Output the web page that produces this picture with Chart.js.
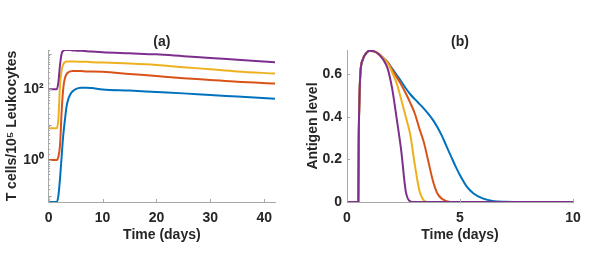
<!DOCTYPE html>
<html>
<head>
<meta charset="utf-8">
<script src="https://cdn.jsdelivr.net/npm/chart.js@4.4.0/dist/chart.umd.min.js"></script>
<style>
  body { margin: 0; background: #fff; }
  .panel { position: absolute; top: 0; }
</style>
</head>
<body>
<div class="panel" style="left:0"><canvas id="chartA" width="300" height="264"></canvas></div>
<div class="panel" style="left:300px"><canvas id="chartB" width="298" height="264"></canvas></div>
<script>
// (a) T cells per 10^5 leukocytes
const timeA = [0, 1.5, 1.8, 2.1, 2.4, 2.7, 3, 3.3, 3.6, 4, 4.5, 5, 5.5, 6, 7, 8, 10, 15, 20, 25, 30, 35, 42];
const tcellBlue   = [0.066, 0.066, 0.1, 0.302, 1.26, 5.01, 13.2, 31.6, 50.1, 70.8, 89.1, 100, 107, 110, 110, 107, 98, 91, 83, 76, 68, 62, 54];
const tcellOrange = [1, 1, 1.26, 2.63, 22.9, 105, 200, 263, 295, 316, 324, 324, 324, 324, 316, 316, 309, 269, 234, 204, 182, 162, 145];
const tcellYellow = [7.9, 7.9, 14.8, 129, 339, 501, 575, 603, 603, 603, 603, 603, 589, 589, 589, 575, 562, 525, 479, 417, 363, 316, 275];
const tcellPurple = [100, 100, 158, 479, 1000, 1202, 1259, 1259, 1259, 1259, 1230, 1230, 1202, 1202, 1175, 1148, 1096, 1023, 955, 851, 759, 676, 575];
const xTicksA = [0, 10, 20, 30, 40];

// (b) antigen level
const timeB = [0, 0.5, 0.52, 0.56, 0.6, 0.7, 0.85, 1.0, 1.2, 1.4, 1.6, 1.8, 2.0, 2.2, 2.4, 2.6, 2.8, 3.0, 3.2, 3.4, 3.6, 3.8, 4.0, 4.2, 4.4, 4.6, 4.8, 5.0, 5.3, 5.6, 6.0, 6.5, 7.0, 8.0, 10.0];
const agBlue   = [0, 0, 0.3, 0.52, 0.615, 0.668, 0.698, 0.709, 0.706, 0.695, 0.675, 0.655, 0.625, 0.595, 0.565, 0.533, 0.505, 0.482, 0.46, 0.438, 0.413, 0.385, 0.35, 0.31, 0.262, 0.215, 0.168, 0.125, 0.072, 0.04, 0.017, 0.004, 0.001, 0, 0];
const agOrange = [0, 0, 0.3, 0.52, 0.615, 0.668, 0.698, 0.709, 0.706, 0.695, 0.675, 0.655, 0.62, 0.585, 0.55, 0.51, 0.465, 0.415, 0.345, 0.28, 0.19, 0.1, 0.04, 0.015, 0.004, 0, 0, 0, 0, 0, 0, 0, 0, 0, 0];
const agYellow = [0, 0, 0.3, 0.52, 0.615, 0.668, 0.698, 0.709, 0.706, 0.695, 0.675, 0.65, 0.607, 0.556, 0.48, 0.4, 0.315, 0.175, 0.055, 0.008, 0, 0, 0, 0, 0, 0, 0, 0, 0, 0, 0, 0, 0, 0, 0];
const agPurple = [0, 0, 0.3, 0.52, 0.615, 0.668, 0.698, 0.709, 0.706, 0.693, 0.668, 0.625, 0.53, 0.39, 0.24, 0.05, 0.003, 0, 0, 0, 0, 0, 0, 0, 0, 0, 0, 0, 0, 0, 0, 0, 0, 0, 0];
const xTicksB = [0, 5, 10];
const yTicksB = [0, 0.2, 0.4, 0.6];

const colors = { blue: '#0072BD', orange: '#D95319', yellow: '#EDB120', purple: '#7E2F8E' };
const textColor = '#262626';
const axisColor = '#a8a8a8';
const font = { family: '"Liberation Sans", Arial, sans-serif', size: 14, weight: 'bold' };

Chart.defaults.font = font;
Chart.defaults.color = textColor;

function pts(xs, ys) {
  return xs.map((x, i) => ({ x: x, y: ys[i] }));
}

function line(xs, ys, color, order) {
  return {
    data: pts(xs, ys),
    borderColor: color,
    borderWidth: 2,
    pointRadius: 0,
    cubicInterpolationMode: 'monotone',
    order: order
  };
}

// small inward tick marks, MATLAB style
const innerTicks = {
  id: 'innerTicks',
  afterDraw(chart) {
    const ctx = chart.ctx, area = chart.chartArea;
    ctx.save();
    ctx.strokeStyle = axisColor;
    ctx.lineWidth = 1;
    ctx.beginPath();
    const x = chart.scales.x;
    x.ticks.forEach(t => {
      const px = Math.round(x.getPixelForValue(t.value)) + 0.5;
      ctx.moveTo(px, area.bottom);
      ctx.lineTo(px, area.bottom - 3);
    });
    const y = chart.scales.y;
    y.ticks.forEach(t => {
      const py = Math.round(y.getPixelForValue(t.value)) + 0.5;
      if (py < area.top - 1 || py > area.bottom + 1) return;
      let len = 3;
      if (y.type === 'logarithmic') {
        const l = Math.log10(t.value);
        len = Math.abs(l - Math.round(l)) < 1e-6 ? 3 : 1.5;
      }
      ctx.moveTo(area.left, py);
      ctx.lineTo(area.left + len, py);
    });
    ctx.stroke();
    ctx.restore();
  }
};

function fixWidth(w) { return s => { s.width = w; }; }
function fixHeight(h) { return s => { s.height = h; }; }

function xScale(max, ticks) {
  return {
    type: 'linear', min: 0, max: max,
    afterFit: fixHeight(62),
    afterBuildTicks: s => { s.ticks = ticks.map(v => ({ value: v })); },
    grid: { display: false, drawTicks: false },
    border: { color: axisColor, width: 1 },
    ticks: { padding: 8, maxRotation: 0, autoSkip: false, color: textColor },
    title: { display: true, text: 'Time (days)', color: textColor, font: font, padding: { top: 0, bottom: 20.6 } }
  };
}

function titleOpts(text) {
  return {
    display: true, text: text, color: textColor, font: font, fullSize: false,
    padding: { top: 33.3, bottom: 0 }
  };
}

new Chart(document.getElementById('chartA'), {
  type: 'line',
  data: {
    datasets: [
      line(timeA, tcellBlue, colors.blue, 4),
      line(timeA, tcellOrange, colors.orange, 3),
      line(timeA, tcellYellow, colors.yellow, 2),
      line(timeA, tcellPurple, colors.purple, 1)
    ]
  },
  options: {
    responsive: false,
    animation: false,
    layout: { padding: { left: 0, right: 25, top: 0, bottom: 0 } },
    plugins: { legend: { display: false }, tooltip: { enabled: false }, title: titleOpts('(a)') },
    scales: {
      x: xScale(42, xTicksA),
      y: {
        type: 'logarithmic', min: 0.066, max: 1260,
        afterFit: fixWidth(48.7),
        grid: { display: false, drawTicks: false },
        border: { color: axisColor, width: 1 },
        ticks: {
          padding: 5, autoSkip: false, color: textColor,
          callback: v => {
            const l = Math.log10(v);
            if (Math.abs(l) < 1e-6) return '10\u2070';
            if (Math.abs(l - 2) < 1e-6) return '10\u00B2';
            return '';
          }
        },
        title: { display: true, text: 'T cells/10\u2075 Leukocytes', color: textColor, font: font, padding: { top: 3.6, bottom: 0 } }
      }
    }
  },
  plugins: [innerTicks]
});

new Chart(document.getElementById('chartB'), {
  type: 'line',
  data: {
    datasets: [
      line(timeB, agBlue, colors.blue, 4),
      line(timeB, agOrange, colors.orange, 3),
      line(timeB, agYellow, colors.yellow, 2),
      line(timeB, agPurple, colors.purple, 1)
    ]
  },
  options: {
    responsive: false,
    animation: false,
    layout: { padding: { left: 0, right: 25, top: 0, bottom: 0 } },
    plugins: { legend: { display: false }, tooltip: { enabled: false }, title: titleOpts('(b)') },
    scales: {
      x: xScale(10, xTicksB),
      y: {
        type: 'linear', min: 0, max: 0.712,
        afterFit: fixWidth(47),
        afterBuildTicks: s => { s.ticks = yTicksB.map(v => ({ value: v })); },
        grid: { display: false, drawTicks: false },
        border: { color: axisColor, width: 1 },
        ticks: { padding: 5, autoSkip: false, color: textColor, callback: v => String(v) },
        title: { display: true, text: 'Antigen level', color: textColor, font: font, padding: { top: 4.6, bottom: 0 } }
      }
    }
  },
  plugins: [innerTicks]
});
</script>
</body>
</html>
